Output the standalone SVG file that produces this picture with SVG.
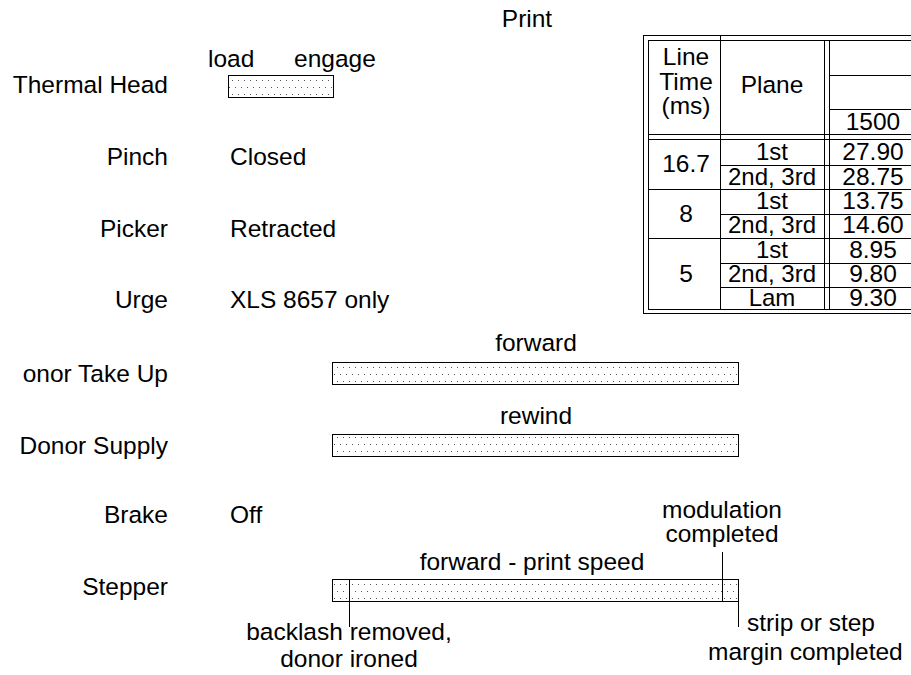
<svg xmlns="http://www.w3.org/2000/svg" width="911" height="675" viewBox="0 0 911 675">
<style>
text{font-family:"Liberation Sans",Arial,sans-serif;font-size:24.5px;fill:#000}
.r{text-anchor:end}
.m{text-anchor:middle}
.t{font-size:24px}
.bar{fill:url(#dots);stroke:#000;stroke-width:1}
.ln{stroke:#000;stroke-width:1;fill:none}
</style>
<defs>
<pattern id="dots" width="6" height="14" patternUnits="userSpaceOnUse">
<rect width="6" height="14" fill="#fff"/>
<rect x="1" y="3" width="1" height="1" fill="#555"/>
<rect x="4" y="10" width="1" height="1" fill="#555"/>
</pattern>
</defs>
<rect width="911" height="675" fill="#fff"/>
<text class="m" x="527" y="27">Print</text>

<g id="thermal-head">
<text class="r" x="168" y="93">Thermal Head</text>
<text x="208" y="67">load</text>
<text x="294" y="67">engage</text>
<rect class="bar" x="228.5" y="75.5" width="105" height="22"/>
</g>
<g id="pinch">
<text class="r" x="168" y="165">Pinch</text>
<text x="230" y="165">Closed</text>
</g>
<g id="picker">
<text class="r" x="168" y="237">Picker</text>
<text x="230" y="237">Retracted</text>
</g>
<g id="urge">
<text class="r" x="168" y="308">Urge</text>
<text x="230" y="308">XLS 8657 only</text>
</g>
<g id="donor-take-up">
<text class="r" x="168" y="382">onor Take Up</text>
<text class="m" x="536" y="351">forward</text>
<rect class="bar" x="332.5" y="362.5" width="406" height="22"/>
</g>
<g id="donor-supply">
<text class="r" x="168" y="454">Donor Supply</text>
<text class="m" x="536" y="424">rewind</text>
<rect class="bar" x="332.5" y="434.5" width="406" height="22"/>
</g>
<g id="brake">
<text class="r" x="168" y="523">Brake</text>
<text x="230" y="523">Off</text>
</g>
<g id="stepper">
<text class="r" x="168" y="595">Stepper</text>
<text class="m" x="532" y="570">forward - print speed</text>
<rect class="bar" x="332.5" y="579.5" width="406" height="22"/>
<text class="m" x="722" y="518">modulation</text>
<text class="m" x="722" y="542">completed</text>
<text class="m" x="349" y="640">backlash removed,</text>
<text class="m" x="349" y="667">donor ironed</text>
<text x="747" y="631">strip or step</text>
<text x="708" y="660">margin completed</text>
</g>
<g id="connectors">
<line class="ln" x1="349.5" y1="579" x2="349.5" y2="627"/>
<line class="ln" x1="722.5" y1="552" x2="722.5" y2="601"/>
<line class="ln" x1="738.5" y1="601" x2="738.5" y2="627"/>
</g>

<g id="table">
<rect class="ln" x="643.5" y="35.5" width="300" height="278"/>
<rect class="ln" x="648.5" y="40.5" width="300" height="269"/>
<line class="ln" x1="720.5" y1="35" x2="720.5" y2="310"/>
<line class="ln" x1="824.5" y1="40" x2="824.5" y2="310"/>
<line class="ln" x1="829.5" y1="40" x2="829.5" y2="310"/>
<line class="ln" x1="829" y1="75.5" x2="911" y2="75.5"/>
<line class="ln" x1="829" y1="109.5" x2="911" y2="109.5"/>
<line class="ln" x1="648" y1="134.5" x2="911" y2="134.5"/>
<line class="ln" x1="648" y1="139.5" x2="911" y2="139.5"/>
<line class="ln" x1="720" y1="165.5" x2="911" y2="165.5"/>
<line class="ln" x1="648" y1="189.5" x2="911" y2="189.5"/>
<line class="ln" x1="720" y1="214.5" x2="911" y2="214.5"/>
<line class="ln" x1="648" y1="238.5" x2="911" y2="238.5"/>
<line class="ln" x1="720" y1="263.5" x2="911" y2="263.5"/>
<line class="ln" x1="720" y1="287.5" x2="911" y2="287.5"/>
<text class="m" x="686" y="65">Line</text>
<text class="m" x="686" y="90">Time</text>
<text class="m" x="686" y="114">(ms)</text>
<text class="m" x="772" y="93">Plane</text>
<text class="m" x="873" y="130">1500</text>
<text class="m" x="686" y="172">16.7</text>
<text class="m" x="686" y="222">8</text>
<text class="m" x="686" y="282">5</text>
<text class="m t" x="772" y="160">1st</text>
<text class="m t" x="772" y="185">2nd, 3rd</text>
<text class="m t" x="772" y="209">1st</text>
<text class="m t" x="772" y="233">2nd, 3rd</text>
<text class="m t" x="772" y="258">1st</text>
<text class="m t" x="772" y="282">2nd, 3rd</text>
<text class="m t" x="772" y="306">Lam</text>
<text class="m" x="873" y="160">27.90</text>
<text class="m" x="873" y="185">28.75</text>
<text class="m" x="873" y="209">13.75</text>
<text class="m" x="873" y="233">14.60</text>
<text class="m" x="873" y="258">8.95</text>
<text class="m" x="873" y="282">9.80</text>
<text class="m" x="873" y="306">9.30</text>
</g>
</svg>
